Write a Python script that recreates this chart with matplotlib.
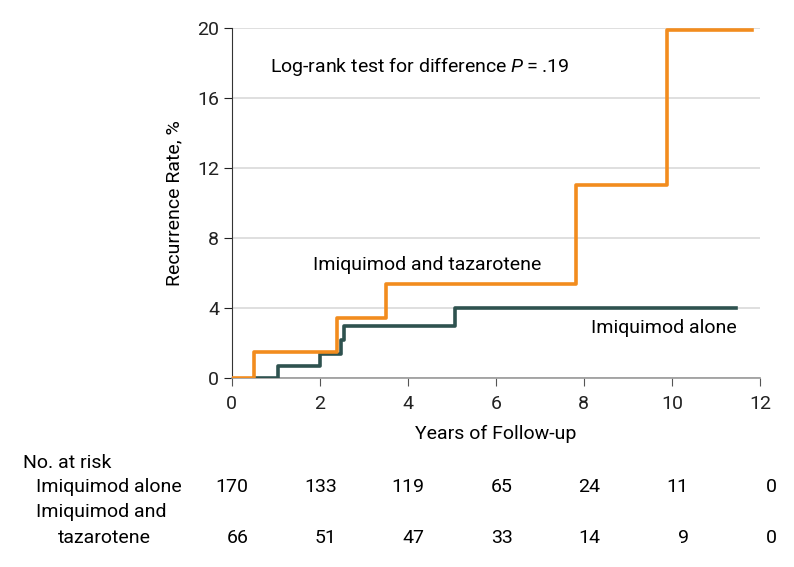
import matplotlib
matplotlib.use('Agg')
import matplotlib.pyplot as plt
import matplotlib.transforms as mtransforms

plt.rcParams['font.family'] = ['Roboto', 'DejaVu Sans']
plt.rcParams['mathtext.fontset'] = 'custom'
plt.rcParams['mathtext.it'] = 'Roboto:italic'
plt.rcParams['mathtext.rm'] = 'Roboto'

# Kaplan-Meier style step data (years, cumulative recurrence %)
combo_t = [0, 0.5, 2.4, 3.5, 7.82, 9.9, 11.82]
combo_y = [0, 1.5, 3.45, 5.4, 11.0, 19.9, 19.9]
alone_t = [0.5, 1.05, 2.0, 2.48, 2.55, 5.07, 11.45]
alone_y = [0, 0.7, 1.4, 2.2, 3.0, 4.0, 4.0]

risk_times = [0, 2, 4, 6, 8, 10, 12]
risk_alone = [170, 133, 119, 65, 24, 11, 0]
risk_combo = [66, 51, 47, 33, 14, 9, 0]

orange = '#F28C1E'
teal = '#2E524F'
fs = 14

fig = plt.figure(figsize=(7.94, 5.67), dpi=100)
ax = fig.add_axes([0.292, 0.333, 0.665, 0.618])

ax.step(alone_t, alone_y, where='post', color=teal, lw=2.6, zorder=3)
ax.step(combo_t, combo_y, where='post', color=orange, lw=2.6, zorder=4)

ax.set_xlim(0, 12)
ax.set_ylim(0, 20)
ax.set_xticks(risk_times)
ax.set_yticks([0, 4, 8, 12, 16, 20])
ax.yaxis.grid(True, color='#d9d9d9', lw=1.2)
ax.set_axisbelow(True)
for s in ['top', 'right']:
    ax.spines[s].set_visible(False)
ax.spines['left'].set_color('#333333')
ax.spines['bottom'].set_color('#999999')
ax.spines['bottom'].set_linewidth(1.2)
ax.tick_params(axis='both', labelsize=fs, colors='#222222', length=6)
ax.tick_params(axis='x', color='#555555', pad=6)
ax.tick_params(axis='y', pad=3)
ax.set_xlabel('Years of Follow-up', fontsize=fs, labelpad=9)
ax.set_ylabel('Recurrence Rate, %', fontsize=fs, labelpad=10)

ax.text(0.86, 17.8, 'Log-rank test for difference $P$\u2009=\u2009.19', fontsize=fs,
        va='center', ha='left')
ax.text(1.84, 6.45, 'Imiquimod and tazarotene', fontsize=fs, va='center', ha='left')
ax.text(11.48, 2.85, 'Imiquimod alone', fontsize=fs, va='center', ha='right')

# number at risk table
trans = mtransforms.blended_transform_factory(ax.transData, fig.transFigure)
fig.text(23 / 794, 1 - 463 / 567, 'No. at risk', fontsize=fs, va='center', ha='left')
fig.text(36 / 794, 1 - 487 / 567, 'Imiquimod alone', fontsize=fs, va='center', ha='left')
fig.text(36 / 794, 1 - 512 / 567, 'Imiquimod and', fontsize=fs, va='center', ha='left')
fig.text(104 / 794, 1 - 538 / 567, 'tazarotene', fontsize=fs, va='center', ha='center')
for t, a, c in zip(risk_times, risk_alone, risk_combo):
    ax.text(t + 0.38, 1 - 487 / 567, str(a), transform=trans, fontsize=fs,
            va='center', ha='right', clip_on=False)
    ax.text(t + 0.38, 1 - 538 / 567, str(c), transform=trans, fontsize=fs,
            va='center', ha='right', clip_on=False)

fig.savefig('out.png', dpi=100)
